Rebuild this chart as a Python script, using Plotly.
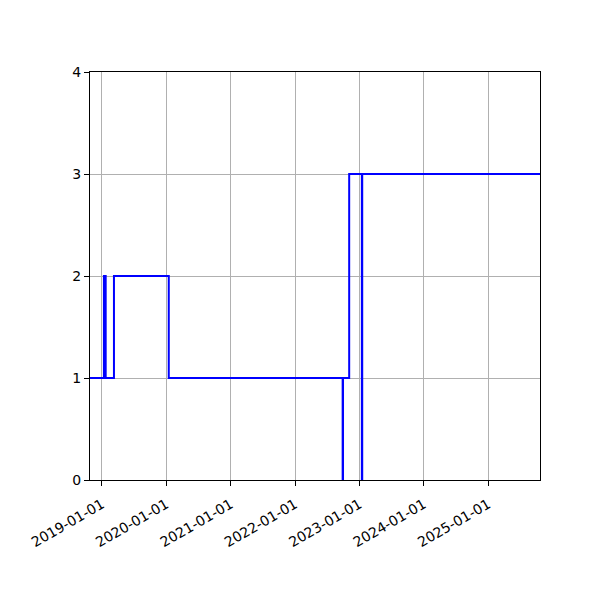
import plotly.graph_objects as go

# ── DATA ──────────────────────────────────────────────────
dates = [
    "2018-10-25", "2019-01-12", "2019-01-22", "2019-03-10", "2020-01-15",
    "2022-09-28", "2022-09-30", "2022-11-04", "2023-01-15", "2023-01-17",
    "2025-10-22",
]
values = [1, 2, 1, 2, 1, 0, 1, 3, 0, 3, 3]

tick_dates = ["2019-01-01", "2020-01-01", "2021-01-01", "2022-01-01",
              "2023-01-01", "2024-01-01", "2025-01-01"]

# ── FIGURE ────────────────────────────────────────────────
fig = go.Figure()
fig.add_trace(go.Scatter(
    x=dates, y=values,
    mode="lines",
    line=dict(color="blue", width=2, shape="hv"),
    showlegend=False,
))

axis_common = dict(
    showline=True, linecolor="black", linewidth=1, mirror=True,
    ticks="outside", ticklen=5, tickcolor="black",
    showgrid=True, gridcolor="#b0b0b0", gridwidth=1,
    zeroline=False,
    tickfont=dict(size=14, color="black", family="DejaVu Sans"),
)

fig.update_xaxes(
    range=[dates[0], dates[-1]],
    tickvals=tick_dates, ticktext=tick_dates,
    tickangle=-30,
    ticklabelstandoff=5,
    **axis_common,
)
fig.update_yaxes(range=[0, 4], dtick=1, **axis_common)

# page body adds an 8px offset, margins compensate for it
fig.update_layout(
    width=600, height=600,
    plot_bgcolor="white", paper_bgcolor="white",
    margin=dict(l=82, r=68, t=64, b=128),
    font=dict(family="DejaVu Sans", color="black"),
)

fig.write_html("out.html")
